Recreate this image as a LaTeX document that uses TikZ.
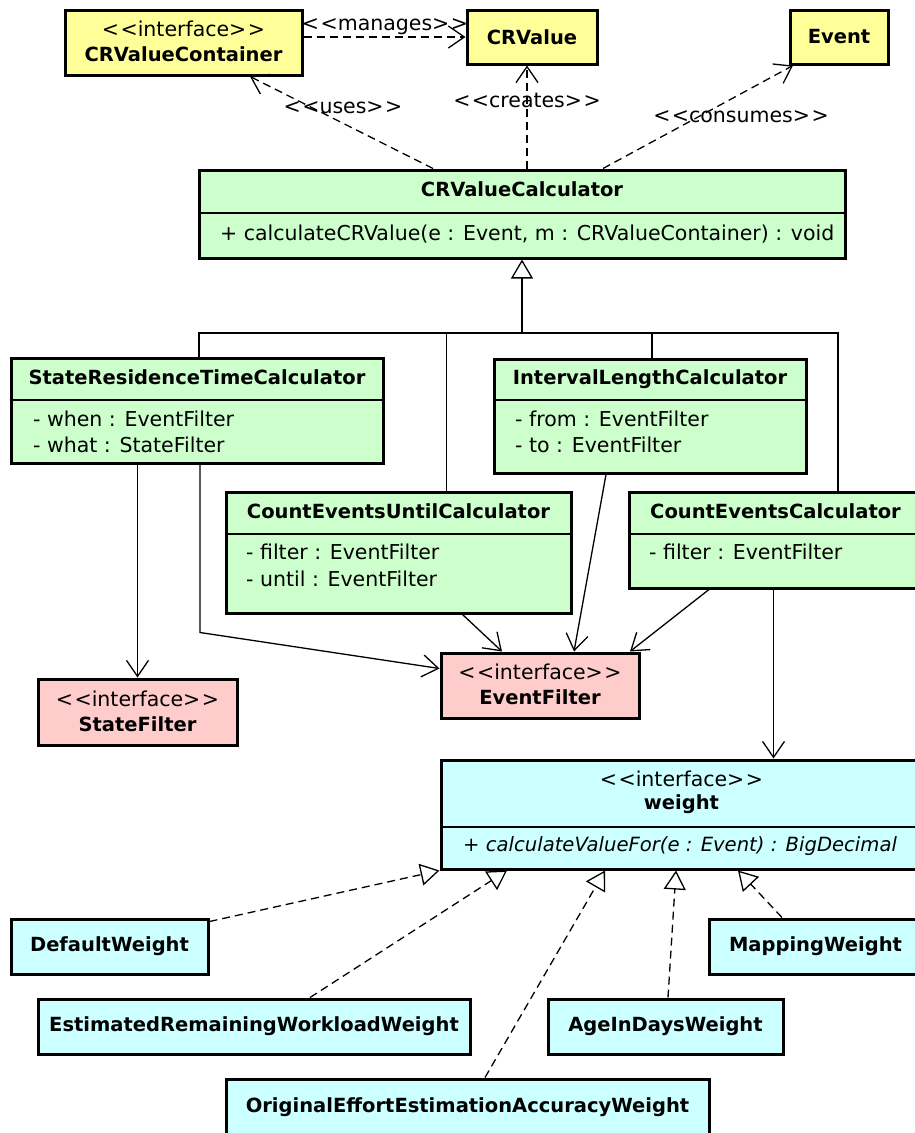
\documentclass[tikz,border=0pt]{standalone}
\usepackage{fontspec}
\setmainfont{DejaVu Sans}
\usetikzlibrary{arrows.meta, positioning}
\usepackage{xcolor}
\definecolor{umlyellow}{RGB}{255,255,153}
\definecolor{umlgreen}{RGB}{204,255,204}
\definecolor{umlpink}{RGB}{255,204,204}
\definecolor{umlcyan}{RGB}{204,255,255}
\newcommand{\umlstereo}[1]{<\kern1.5pt<#1>\kern1.5pt>}
\tikzset{classbox/.style={draw=black, line width=3pt, inner sep=0pt},yellowbox/.style={classbox, fill=umlyellow},greenbox/.style={classbox, fill=umlgreen},pinkbox/.style={classbox, fill=umlpink},cyanbox/.style={classbox, fill=umlcyan}}
\tikzset{plainlabel/.style={font=\fontsize{20.5}{24}\selectfont, inner sep=0pt, anchor=mid},namelabel/.style={font=\fontsize{19.5}{24}\selectfont\bfseries, inner sep=0pt, anchor=mid},attrlabel/.style={font=\fontsize{20.5}{24}\selectfont, inner sep=0pt, anchor=mid west}}

\begin{document}
\begin{tikzpicture}[
        x=1pt, y=-1pt,
        boxname/.style={font=\fontsize{19.5}{24}\selectfont\bfseries},
        divider/.style={line width=1.3pt},
        treeline/.style={line width=1.3pt},
        assoc/.style={line width=1.3pt, -{Straight Barb[length=16pt, width=22pt, line width=1.3pt]}},
        depend/.style={line width=1.3pt, dash pattern=on 8pt off 5pt, -{Straight Barb[length=16pt, width=22pt, line width=1.3pt]}},
        inherit/.style={line width=1.3pt, -{Triangle[open, fill=white, length=19pt, width=22pt, line width=1.3pt]}},
        realize/.style={inherit, dash pattern=on 8pt off 5pt}
    ]
        \useasboundingbox (0,0) rectangle (915,1133);
        % Top classes
        \node[yellowbox, minimum width=237pt, minimum height=65pt] (container) at (183.5,42.5) {};
        \node[plainlabel] (containerstereo) at (183.5,34) {\umlstereo{interface}};
        \node[namelabel] (containername) at (183.5,59) {CRValueContainer};
        \node[yellowbox, boxname, minimum width=130pt, minimum height=54pt] (crvalue) at (532,37) {CRValue};
        \node[yellowbox, boxname, minimum width=98pt, minimum height=54pt] (event) at (839,37) {Event};
        % Calculator
        \node[greenbox, minimum width=646pt, minimum height=88pt] (calc) at (522,214) {};
        \node[namelabel] (calcname) at (522,194) {CRValueCalculator};
        \draw[divider] (calc.west |- 0,213) -- (calc.east |- 0,213);
        \node[attrlabel] (calcop) at (220,238) {+ calculateCRValue(e : Event, m : CRValueContainer) : void};
        % Dependencies
        \draw[depend] ([yshift=5.5pt]container.east) -- (crvalue.west);
        \draw[depend] ([xshift=-89pt]calc.north) -- ([xshift=66.5pt]container.south);
        \draw[depend] ([xshift=5pt]calc.north) -- ([xshift=-5pt]crvalue.south);
        \draw[depend] ([xshift=81pt]calc.north) -- ([xshift=-46pt]event.south);
        \node[plainlabel] (manageslabel) at (385,28) {\umlstereo{manages}};
        \node[plainlabel] (useslabel) at (343,111) {\umlstereo{uses}};
        \node[plainlabel] (createslabel) at (527,105) {\umlstereo{creates}};
        \node[plainlabel] (consumeslabel) at (741,120) {\umlstereo{consumes}};
        % Concrete calculators
        \node[greenbox, minimum width=372pt, minimum height=105pt] (state) at (197,410.5) {};
        \node[namelabel] (statename) at (197,382) {StateResidenceTimeCalculator};
        \draw[divider] (state.west |- 0,400) -- (state.east |- 0,400);
        \node[attrlabel] (statewhen) at (33,424) {- when : EventFilter};
        \node[attrlabel] (statewhat) at (33,450) {- what : StateFilter};
        \node[greenbox, minimum width=312pt, minimum height=114pt] (interval) at (650,416) {};
        \node[namelabel] (intervalname) at (650,382) {IntervalLengthCalculator};
        \draw[divider] (interval.west |- 0,400) -- (interval.east |- 0,400);
        \node[attrlabel] (intervalfrom) at (515,424) {- from : EventFilter};
        \node[attrlabel] (intervalto) at (515,450) {- to : EventFilter};
        \node[greenbox, minimum width=345pt, minimum height=121pt] (until) at (398.5,552.5) {};
        \node[namelabel] (untilname) at (398.5,516) {CountEventsUntilCalculator};
        \draw[divider] (until.west |- 0,534) -- (until.east |- 0,534);
        \node[attrlabel] (untilfilter) at (246,557) {- filter : EventFilter};
        \node[attrlabel] (untiluntil) at (246,584) {- until : EventFilter};
        \node[greenbox, minimum width=293pt, minimum height=96pt] (count) at (775.5,540) {};
        \node[namelabel] (countname) at (775.5,516) {CountEventsCalculator};
        \draw[divider] (count.west |- 0,534) -- (count.east |- 0,534);
        \node[attrlabel] (countfilter) at (649,557) {- filter : EventFilter};
        % Generalization
        \coordinate (busjoin) at (522,333);
        \draw[inherit] (busjoin) -- (busjoin |- calc.south);
        \draw[treeline] ([xshift=2pt]state.north) |- (busjoin);
        \draw[treeline] ([xshift=48pt]until.north) |- (busjoin);
        \draw[treeline] ([xshift=2pt]interval.north) |- (busjoin);
        \draw[treeline] ([xshift=62.5pt]count.north) |- (busjoin);
        % Filters
        \node[pinkbox, minimum width=199pt, minimum height=66pt] (statefilter) at (137.5,712) {};
        \node[plainlabel] (statefilterstereo) at (137.5,704) {\umlstereo{interface}};
        \node[namelabel] (statefiltername) at (137.5,729) {StateFilter};
        \node[pinkbox, minimum width=198pt, minimum height=65pt] (eventfilter) at (540,685.5) {};
        \node[plainlabel] (eventfilterstereo) at (540,677) {\umlstereo{interface}};
        \node[namelabel] (eventfiltername) at (540,702) {EventFilter};
        % Associations
        \draw[assoc] (state.south -| statefilter.north) -- (statefilter.north);
        \draw[assoc] ([xshift=3pt]state.south) -- ++(0,168) -- ([yshift=17pt]eventfilter.west);
        \draw[assoc] ([xshift=64pt]until.south) -- ([xshift=-38pt]eventfilter.north);
        \draw[assoc] ([xshift=-44pt]interval.south) -- ([xshift=34pt]eventfilter.north);
        \draw[assoc] ([xshift=-66.5pt]count.south) -- ([xshift=90pt]eventfilter.north);
        % Weight interface
        \node[cyanbox, minimum width=481pt, minimum height=109pt] (weight) at (681.5,814.5) {};
        \node[plainlabel] (weightstereo) at (681.5,784) {\umlstereo{interface}};
        \node[namelabel] (weightname) at (681.5,807) {weight};
        \draw[divider] (weight.west |- 0,827) -- (weight.east |- 0,827);
        \node[attrlabel, font=\fontsize{19.6}{24}\selectfont] (weightop) at (463,849) {+ \textit{calculateValueFor(e : Event) : BigDecimal}};
        \draw[assoc] ([xshift=-2pt]count.south) -- ([xshift=-2pt]count.south |- weight.north);
        % Weight implementations
        \node[cyanbox, boxname, minimum width=197pt, minimum height=55pt] (default) at (109.5,946.5) {DefaultWeight};
        \node[cyanbox, boxname, minimum width=213pt, minimum height=55pt] (mapping) at (815.5,946.5) {MappingWeight};
        \node[cyanbox, boxname, minimum width=432pt, minimum height=55pt] (estimated) at (254,1026.5) {EstimatedRemainingWorkloadWeight};
        \node[cyanbox, boxname, minimum width=235pt, minimum height=55pt] (age) at (665.5,1026.5) {AgeInDaysWeight};
        \node[cyanbox, boxname, minimum width=483pt, minimum height=56pt] (original) at (467.5,1107) {OriginalEffortEstimationAccuracyWeight};
        \draw[realize] ([yshift=-4pt]default.north east) -- (weight.south west);
        \draw[realize] ([xshift=56pt]estimated.north) -- ([xshift=-174.5pt]weight.south);
        \draw[realize] ([xshift=17.5pt]original.north) -- ([xshift=-76.5pt]weight.south);
        \draw[realize] ([xshift=2.5pt]age.north) -- ([xshift=-5.5pt]weight.south);
        \draw[realize] ([xshift=-33.5pt]mapping.north) -- ([xshift=56.5pt]weight.south);
    \end{tikzpicture}
\end{document}
